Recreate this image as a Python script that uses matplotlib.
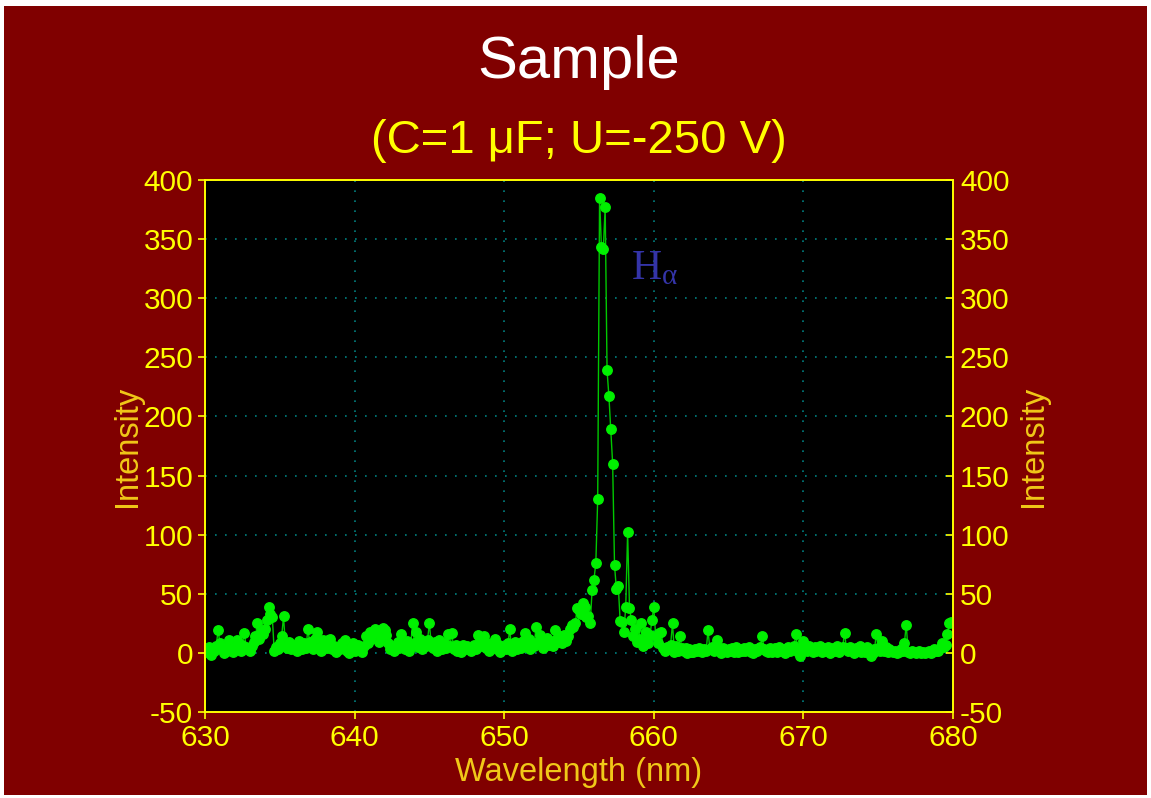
import numpy as np
import matplotlib
matplotlib.use('Agg')
import matplotlib.pyplot as plt
from matplotlib.patches import Rectangle

plt.rcParams['font.family'] = ['Liberation Sans', 'DejaVu Sans']
plt.rcParams['axes.unicode_minus'] = False
plt.rcParams['mathtext.fontset'] = 'custom'
plt.rcParams['mathtext.rm'] = 'Liberation Serif'
plt.rcParams['mathtext.it'] = 'Liberation Serif'

# spectrum, 8 samples per nm from 630 to 680 nm
intensity = [
    3, 1, 5, -2, 4, 2, 6, 19,          # 630
    8, 3, 0, 5, 2, 11, 4, 1,           # 631
    6, 11, 3, 2, 7, 17, 5, 4,          # 632
    2, 6, 9, 14, 25, 12, 18, 16,       # 633
    20, 28, 39, 33, 30, 2, 5, 3,       # 634
    8, 14, 31, 6, 4, 9, 3, 7,          # 635
    5, 2, 10, 6, 3, 8, 4, 20,          # 636
    9, 6, 3, 12, 18, 5, 2, 11,         # 637
    7, 4, 11, 12, 3, 6, 1, 5,          # 638
    3, 8, 4, 11, 2, 0, 5, 8,           # 639
    2, 5, 7, 4, 1, 6, 14, 8,           # 640
    18, 12, 16, 20, 17, 9, 13, 21,     # 641
    19, 15, 8, 3, 6, 2, 5, 9,          # 642
    4, 16, 7, 3, 10, 2, 6, 25,         # 643
    8, 18, 5, 12, 3, 9, 6, 11,         # 644
    25, 7, 4, 9, 2, 11, 5, 3,          # 645
    8, 4, 16, 6, 17, 3, 7, 2,          # 646
    5, 1, 7, 3, 6, 4, 2, 4,            # 647
    7, 3, 15, 10, 6, 14, 4, 8,         # 648
    2, 6, 5, 12, 3, 7, 1, 4,           # 649
    6, 3, 8, 20, 2, 5, 9, 3,           # 650
    7, 4, 10, 17, 5, 12, 3, 8,         # 651
    6, 22, 9, 15, 11, 4, 8, 13,        # 652
    7, 10, 6, 19, 12, 9, 14, 8,        # 653
    15, 10, 14, 20, 24, 22, 25, 38,    # 654
    36, 33, 42, 39, 30, 31, 25, 53,    # 655
    62, 76, 130, 385, 343, 342, 377, 239,  # 656
    217, 189, 160, 74, 54, 57, 27, 26,     # 657
    18, 39, 102, 38, 28, 14, 20, 9,    # 658
    12, 25, 6, 10, 18, 8, 15, 28,      # 659
    39, 14, 8, 17, 18, 4, 2, 5,        # 660
    3, 7, 25, 1, 6, 2, 14, 4,          # 661
    2, 4, 0, 3, 1, 1, 3, 2,            # 662
    4, 2, 1, 3, 2, 19, 3, 5,           # 663
    2, 4, 11, 3, 0, 4, 2, 1,           # 664
    3, 2, 4, 1, 5, 1, 3, 2,            # 665
    4, 2, 3, 5, 1, 0, 3, 2,            # 666
    4, 5, 14, 3, 2, 1, 4, 1,           # 667
    3, 4, 1, 5, 2, 3, 0, 3,            # 668
    5, 2, 4, 6, 16, 1, -3, 5,          # 669
    10, 4, 2, 6, 3, 1, 5, 2,           # 670
    3, 6, 1, 4, 2, 5, 0, 3,            # 671
    4, 2, 6, 1, 3, 5, 17, 4,           # 672
    2, 5, 3, 0, 4, 2, 6, 1,            # 673
    3, 1, 5, 2, -3, 0, 3, 16,          # 674
    4, 2, 10, 2, 5, 1, 3, 2,           # 675
    1, 2, 0, 1, 3, 2, 8, 24,           # 676
    1, 0, 2, 1, 0, 1, 2, 0,            # 677
    1, 0, 1, 2, 0, 1, 3, 2,            # 678
    2, 4, 8, 5, 7, 16, 25, 26,         # 679
    25,                                # 680
]
wavelength = np.linspace(630, 680, len(intensity))

x_ticks = [630, 640, 650, 660, 670, 680]
y_ticks = [-50, 0, 50, 100, 150, 200, 250, 300, 350, 400]

bg = '#800000'
yellow = '#FFFF00'
label_col = '#F0C818'

fig = plt.figure(figsize=(11.51, 7.98), dpi=100)
fig.patch.set_facecolor('white')
fig.patches.append(Rectangle((4 / 1151, 3 / 798), 1143 / 1151, 789 / 798,
                             transform=fig.transFigure, facecolor=bg,
                             edgecolor='none', zorder=-10))

ax = fig.add_axes([205 / 1151, 86 / 798, 748 / 1151, 532 / 798])
ax.set_facecolor('black')
ax.plot(wavelength, intensity, '-', color='#00c800', lw=1,
        marker='o', ms=6.8, mfc='#00f000', mec='#00f000', zorder=3)

ax.set_xlim(630, 680)
ax.set_ylim(-50, 400)
ax.set_xticks(x_ticks)
ax.set_yticks(y_ticks)
ax.grid(True, color='#008080', linestyle=(0, (1, 5)), lw=1.2)
for s in ax.spines.values():
    s.set_color(yellow)
    s.set_linewidth(1.2)
ax.tick_params(axis='both', colors=yellow, labelsize=21.5, direction='out',
               length=5, width=1.2, labelcolor=yellow)
ax.set_xlabel('Wavelength (nm)', color=label_col, fontsize=23.5, labelpad=4)
ax.set_ylabel('Intensity', color=label_col, fontsize=23.5, labelpad=0)

ax2 = ax.twinx()
ax2.set_ylim(-50, 400)
ax2.set_yticks(y_ticks)
ax2.tick_params(axis='y', colors=yellow, labelsize=21.5, direction='in',
                length=5, width=1.2, labelcolor=yellow, pad=5)
ax2.set_ylabel('Intensity', color=label_col, fontsize=23.5, labelpad=6)
for s in ax2.spines.values():
    s.set_color(yellow)
    s.set_linewidth(1.2)

ax.text(658.5, 325, r'$H_\alpha$', color='#3434a8', fontsize=30,
        va='center', ha='left')

fig.text(579 / 1151, 1 - 63 / 798, 'Sample', color='white', fontsize=43,
         ha='center', va='center')
fig.text(579 / 1151, 1 - 141 / 798, '(C=1 μF; U=-250 V)', color=yellow,
         fontsize=34, ha='center', va='center')

fig.savefig('out.png', dpi=100, facecolor=fig.get_facecolor())
